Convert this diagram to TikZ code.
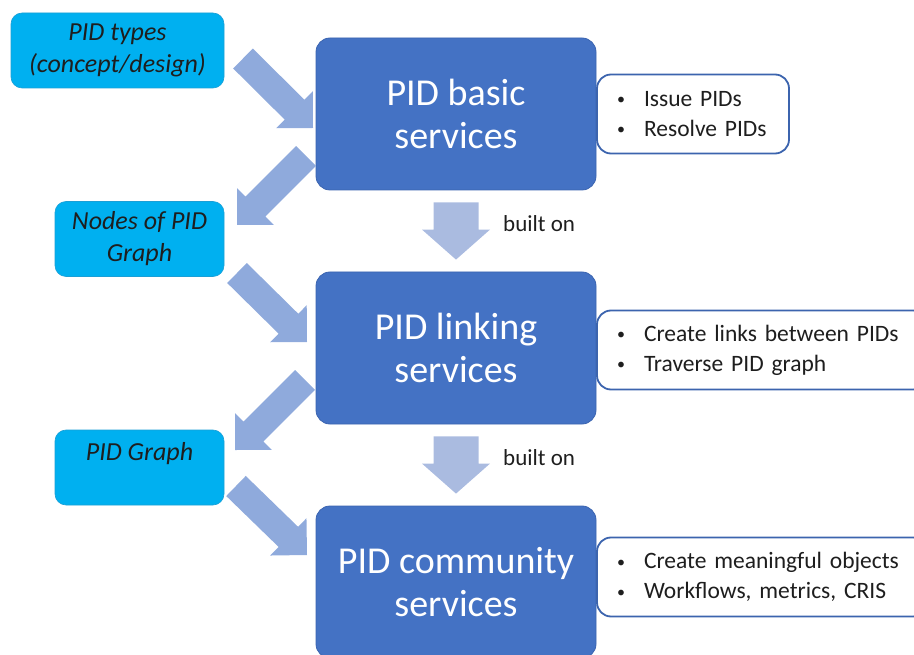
\documentclass[tikz,border=0pt]{standalone}
\usepackage{fontspec}
\setmainfont{Carlito}
\usetikzlibrary{calc}
\definecolor{mainblue}{HTML}{4472C4}
\definecolor{mainedge}{HTML}{3B64B0}
\definecolor{cyanbox}{HTML}{00B0F0}
\definecolor{cyanedge}{HTML}{1A9FD6}
\definecolor{diagarrow}{HTML}{8FAADC}
\definecolor{downarrow}{HTML}{AABBE0}
\definecolor{sideedge}{HTML}{3C64AE}
\definecolor{darktext}{HTML}{1E1E1E}

% Block arrow: #1 start, #2 tip, #3 half shaft width, #4 half head width,
% #5 head length, #6 style
\newcommand\blockarrow[6]{%
  \fill[#6] let \p1=(#1), \p2=(#2),
     \n1={scalar(atan2(\y2-\y1,\x2-\x1))},
     \n2={scalar(veclen(\x2-\x1,\y2-\y1))-#5}
   in ($(\p1)+(\n1+90:#3pt)$)
   -- ($(\p1)+(\n1:\n2 pt)+(\n1+90:#3pt)$)
   -- ($(\p1)+(\n1:\n2 pt)+(\n1+90:#4pt)$)
   -- (\p2)
   -- ($(\p1)+(\n1:\n2 pt)+(\n1-90:#4pt)$)
   -- ($(\p1)+(\n1:\n2 pt)+(\n1-90:#3pt)$)
   -- ($(\p1)+(\n1-90:#3pt)$) -- cycle;}

% small list bullet followed by a fixed indent
\newcommand\bul{\makebox[27pt][l]{\raisebox{1.5pt}{\fontsize{16}{16}\selectfont\textbullet}}}

\begin{document}
\begin{tikzpicture}[x=1pt,y=-1pt,
  service/.style={rectangle, rounded corners=14pt, fill=mainblue, draw=mainedge,
    line width=0.8pt, minimum width=280pt, minimum height=152pt, text=white,
    font=\fontsize{38}{43}\selectfont, align=center, inner sep=0pt},
  concept/.style={rectangle, rounded corners=11pt, fill=cyanbox, draw=cyanedge,
    line width=0.6pt, minimum height=75pt, text=darktext,
    font=\fontsize{26}{32}\selectfont\itshape, align=center, inner sep=0pt},
  feature/.style={rectangle, rounded corners=14pt, fill=white, draw=sideedge,
    line width=1.8pt, minimum height=79pt, text=darktext,
    font=\fontsize{23.5}{30}\selectfont, align=left, inner xsep=20pt, inner ysep=0pt},
  builton/.style={anchor=west, text=darktext, font=\fontsize{23}{28}\selectfont, inner sep=0pt},
  diag/.style={fill=diagarrow},
  down/.style={fill=downarrow}]

\useasboundingbox (0,0) rectangle (914,655);

% service layers
\node[service] (basic) at (456,114) {PID basic\\services};
\node[service] (linking) at (456,348) {PID linking\\services};
\node[service] (community) at (456,582) {PID community\\services};

% concepts on the left
\node[concept, minimum width=213pt] (types) at (117.5,50.5) {PID types\\(concept/design)};
\node[concept, minimum width=169pt] (nodes) at (139.5,239) {Nodes of PID\\Graph};
\node[concept, minimum width=169pt] (graph) at (139.5,467.5) {PID Graph\\\mbox{}};

% feature lists on the right
\node[feature, text width=152pt] (f1) at (693,114)
  {\bul Issue PIDs\\\bul Resolve PIDs};
\node[feature, text width=290pt] (f2) at (762,350)
  {\bul Create links between PIDs\\\bul Traverse PID graph};
\node[feature, text width=290pt] (f3) at (762,577)
  {\bul Create meaningful objects\\\bul Workflows, metrics, CRIS};

% "built on" arrows between layers
\coordinate (b1s) at ($(basic.south)+(0,12)$);
\coordinate (b1e) at ($(linking.north)+(0,-12)$);
\coordinate (b2s) at ($(linking.south)+(0,12)$);
\coordinate (b2e) at ($(community.north)+(0,-12)$);
\blockarrow{b1s}{b1e}{22.5}{34}{30}{down}
\blockarrow{b2s}{b2e}{22.5}{34}{30}{down}
\node[builton] (lbl1) at (503,224) {built on};
\node[builton] (lbl2) at (503,458) {built on};

% diagonal arrows between concepts and layers
\coordinate (d1s) at (243,58.5);  \coordinate (d1e) at (313,128);
\coordinate (d2s) at (306,156);   \coordinate (d2e) at (237,225);
\coordinate (d3s) at (237,273);   \coordinate (d3e) at (307,342);
\coordinate (d4s) at (305,380);   \coordinate (d4e) at (235,450);
\coordinate (d5s) at (236,486);   \coordinate (d5e) at (307,555);
\blockarrow{d1s}{d1e}{14}{26}{26}{diag}
\blockarrow{d2s}{d2e}{14}{26}{26}{diag}
\blockarrow{d3s}{d3e}{14}{26}{26}{diag}
\blockarrow{d4s}{d4e}{14}{26}{26}{diag}
\blockarrow{d5s}{d5e}{14}{26}{26}{diag}
\end{tikzpicture}
\end{document}
